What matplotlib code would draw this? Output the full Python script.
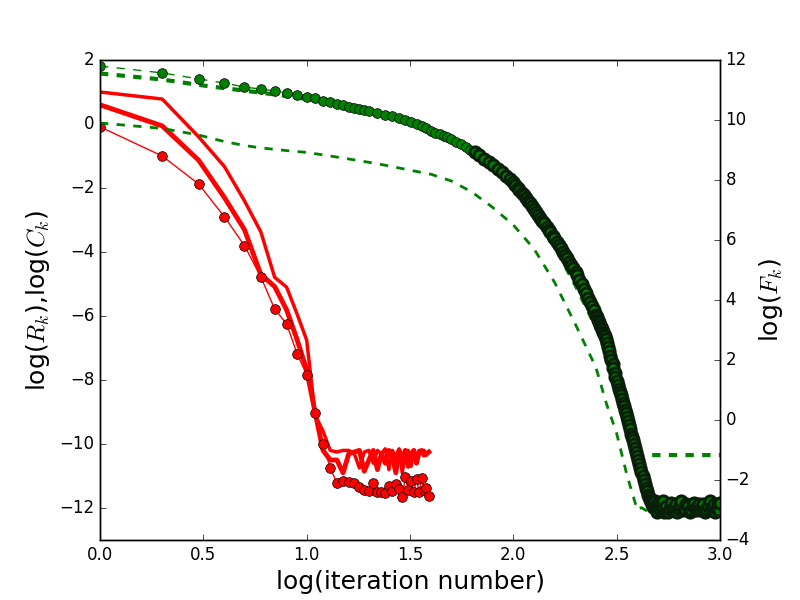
import numpy as np
import matplotlib
matplotlib.use('Agg')
import matplotlib.pyplot as plt

plt.style.use('classic')
plt.rcParams['mathtext.fontset'] = 'cm'

# residual / correction curves (left axis), iterations 1..39
red_iters = list(range(1, 40))
red_marked = [-0.09, -1.0, -1.875, -2.9, -3.8, -4.78, -5.78, -6.25, -7.19, -7.84,
              -9.03, -10.0, -10.75, -11.21, -11.16, -11.19, -11.23, -11.33, -11.44, -11.47,
              -11.21, -11.5, -11.5, -11.54, -11.31, -11.47, -11.26, -11.42, -11.67, -11.04,
              -11.44, -11.16, -11.49, -11.10, -11.49, -11.07, -11.44, -11.38, -11.63]
red_a = [1.0, 0.78, -0.40, -1.33, -2.40, -3.37, -4.79, -5.10, -5.95, -6.75,
         -9.1, -9.6, -10.2, -10.25, -10.2, -10.2, -10.3, -10.75, -10.25, -10.2,
         -10.6, -10.2, -10.3, -10.15, -10.8, -10.2, -10.4, -10.15, -10.9, -10.3,
         -10.2, -10.7, -10.25, -10.45, -10.2, -10.3, -10.2, -10.35, -10.25]
red_b = [0.6, -0.06, -1.13, -2.3, -3.3, -4.7, -5.08, -5.81, -6.75, -7.69,
         -9.03, -10.2, -10.5, -10.5, -10.9, -10.3, -10.25, -10.2, -10.85, -10.5,
         -10.2, -10.8, -10.3, -10.6, -10.2, -10.4, -10.9, -10.2, -10.5, -10.2,
         -10.7, -10.3, -10.2, -10.6, -10.25, -10.2, -10.35, -10.3, -10.25]

# functional values (right axis)
f_iters = [1, 2, 3, 4, 5, 6, 7, 8, 9, 10,
           11, 12, 13, 14, 15, 16, 17, 18, 19, 20,
           22, 24, 26, 28, 30, 32, 34, 36, 38, 40,
           42, 44, 46, 48, 50, 53, 56, 59, 62, 65,
           68, 72, 76, 80, 84, 88, 92, 96, 100, 102,
           105, 107, 110, 112, 115, 118, 120, 123, 126, 129,
           132, 135, 138, 141, 145, 148, 151, 155, 158, 162,
           166, 170, 174, 178, 182, 186, 191, 195, 200, 204,
           209, 214, 219, 224, 229, 234, 240, 245, 251, 254,
           257, 260, 263, 266, 269, 272, 275, 278, 282, 285,
           288, 291, 295, 298, 302, 305, 309, 312, 316, 320,
           324, 327, 331, 335, 339, 343, 347, 351, 355, 359,
           363, 367, 372, 376, 380, 384, 389, 393, 398, 402,
           407, 412, 417, 422, 427, 432, 437, 442, 447, 452,
           457, 462, 468, 474, 479, 485, 490, 495, 501, 507,
           513, 519, 525, 531, 537, 543, 550, 560, 570, 580,
           590, 600, 610, 620, 630, 640, 650, 662, 675, 688,
           700, 712, 725, 737, 750, 762, 775, 788, 800, 815,
           830, 845, 860, 875, 890, 905, 920, 935, 950, 965,
           980, 990, 1000]
f_vals = [11.8, 11.57, 11.37, 11.23, 11.1, 11.03, 10.97, 10.9, 10.85, 10.78,
          10.72, 10.65, 10.59, 10.53, 10.49, 10.45, 10.41, 10.37, 10.33, 10.29,
          10.23, 10.17, 10.12, 10.07, 10.01, 9.94, 9.87, 9.80, 9.72, 9.64,
          9.58, 9.53, 9.47, 9.42, 9.37, 9.28, 9.19, 9.10, 9.01, 8.92,
          8.83, 8.71, 8.60, 8.49, 8.38, 8.27, 8.14, 8.03, 7.92, 7.84,
          7.74, 7.67, 7.56, 7.49, 7.39, 7.29, 7.23, 7.14, 7.05, 6.94,
          6.84, 6.75, 6.65, 6.56, 6.44, 6.35, 6.26, 6.15, 6.06, 5.94,
          5.83, 5.72, 5.60, 5.50, 5.39, 5.28, 5.16, 5.06, 4.94, 4.82,
          4.66, 4.52, 4.37, 4.22, 4.08, 3.95, 3.79, 3.66, 3.50, 3.42,
          3.34, 3.26, 3.18, 3.10, 3.02, 2.95, 2.88, 2.80, 2.70, 2.58,
          2.45, 2.31, 2.14, 2.00, 1.86, 1.72, 1.58, 1.44, 1.30, 1.17,
          1.04, 0.93, 0.82, 0.70, 0.58, 0.46, 0.34, 0.22, 0.10, -0.03,
          -0.16, -0.30, -0.45, -0.57, -0.68, -0.81, -0.94, -1.07, -1.20, -1.33,
          -1.47, -1.60, -1.73, -1.87, -2.00, -2.12, -2.25, -2.38, -2.50, -2.58,
          -2.65, -2.73, -2.80, -2.90, -2.85, -2.70, -2.95, -3.05, -2.75, -2.90,
          -3.00, -2.80, -2.90, -2.70, -3.05, -2.95, -2.85, -3.05, -2.95, -2.75,
          -3.00, -2.90, -2.80, -3.05, -2.95, -2.85, -2.70, -3.00, -2.95, -2.80,
          -2.85, -3.05, -3.00, -2.85, -2.75, -3.00, -2.90, -2.80, -3.00, -2.90,
          -2.80, -3.05, -2.95, -2.85, -2.70, -3.00, -2.90, -2.80, -3.05, -2.95,
          -2.80, -3.00, -2.75]

dash_iters = [1, 2, 3, 4, 5, 6, 8, 10, 13, 16, 20, 25, 32, 40, 50, 63, 79,
              100, 126, 158, 200, 251, 282, 316, 355, 398, 417, 447, 501,
              562, 631, 708, 794, 891, 1000]
f_thick = [11.55, 11.35, 11.17, 11.06, 10.98, 10.91, 10.8, 10.7, 10.55, 10.42,
           10.27, 10.12, 9.9, 9.6, 9.3, 8.92, 8.45, 7.8, 6.85, 5.8, 4.5, 3.1,
           2.3, 1.0, -0.1, -1.17, -1.17, -1.17, -1.17, -1.17, -1.17, -1.17,
           -1.17, -1.17, -1.17]
f_medium = [9.9, 9.72, 9.5, 9.28, 9.15, 9.07, 8.98, 8.92, 8.8, 8.7,
            8.59, 8.47, 8.32, 8.19, 7.97, 7.6, 7.1, 6.5, 5.7, 4.6, 3.18, 1.75,
            0.55, -0.44, -1.85, -3.0, -2.92, -3.05, -2.95, -3.02, -2.96, -3.04,
            -2.98, -3.02, -2.97]

fig = plt.figure(figsize=(8, 6), dpi=100)
ax1 = fig.add_subplot(111)
ax1.plot(np.log10(red_iters), red_a, 'r-', lw=2.5)
ax1.plot(np.log10(red_iters), red_b, 'r-', lw=3.5)
ax1.plot(np.log10(red_iters), red_marked, 'r-', lw=1, marker='o', ms=7,
         mfc='r', mec='k')
ax1.set_xlim(0, 3)
ax1.set_ylim(-13, 2)
ax1.set_xlabel('log(iteration number)', fontsize=18)
ax1.set_ylabel(r'log($R_k$),log($C_k$)', fontsize=18)

ax2 = ax1.twinx()
ax2.plot(np.log10(dash_iters), f_thick, 'g--', lw=3)
ax2.plot(np.log10(dash_iters), f_medium, 'g--', lw=2)
# later iterations are packed tightly in the original, so their marker
# edges pile up into a dark band; heavier edges mimic that
split = 40
fx = np.log10(f_iters)
ax2.plot(fx[:split], f_vals[:split], 'g--', lw=1, marker='o', ms=7,
         mfc='g', mec='k')
ax2.plot(fx[split - 1:], f_vals[split - 1:], 'g--', lw=1, marker='o', ms=8,
         mfc='g', mec='#0a1f0a', mew=2.2)
ax2.set_xlim(0, 3)
ax2.set_ylim(-4, 12)
ax2.set_ylabel(r'log($F_k$)', fontsize=18)

fig.savefig('out.png', dpi=100)
